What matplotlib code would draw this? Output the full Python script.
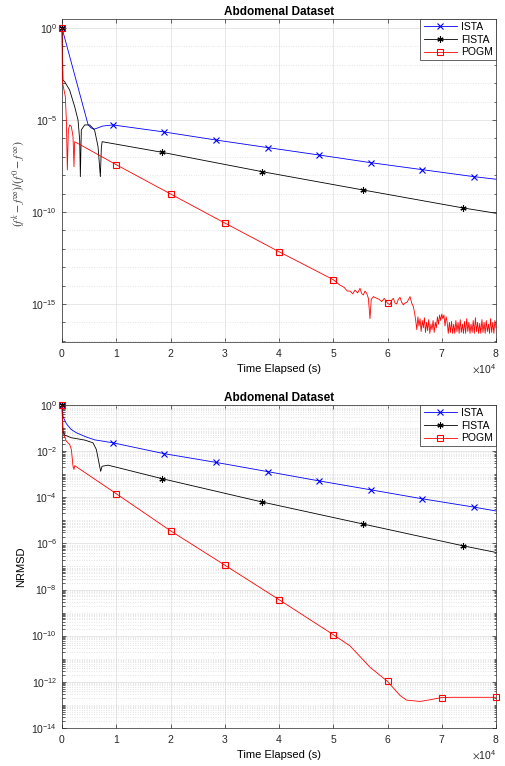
import numpy as np
import matplotlib
matplotlib.use('Agg')
import matplotlib.pyplot as plt
from matplotlib.lines import Line2D
from matplotlib.ticker import FixedLocator, NullFormatter, LogFormatterSciNotation

# ---- data (time in s, values as log10) ----
# top panel: relative cost (f^k - f^inf)/(f^0 - f^inf)
ista_t_top = [0, 4800, 5300, 5900, 6600, 7500, 9400, 18800, 28400, 37900, 47300, 56900, 66400, 75900, 80000]
ista_y_top = [0, -5.25, -5.42, -5.5, -5.43, -5.33, -5.27, -5.65, -6.09, -6.5, -6.9, -7.32, -7.7, -8.08, -8.22]

fista_t_top = [0, 180, 490, 1400, 2340, 2950, 3260, 3380, 3560, 4170, 5100, 6000, 6640, 7070, 7250, 7400,
               18500, 36900, 55400, 73900, 80000]
fista_y_top = [0, -2.84, -2.92, -3.37, -4.28, -5.0, -6.09, -8.08, -5.54, -5.27, -5.27, -5.54, -6.45, -8.08, -6.5, -6.18,
               -6.76, -7.81, -8.8, -9.78, -10.07]

pogm_t_top = [0, 60, 184, 610, 800, 980, 1170, 1410, 1720, 2030, 2210, 2330,
              10000, 20000, 30000, 40000, 50000,
              51200, 52000, 52600, 53100, 53600, 54000, 54500, 54930, 55250, 55550, 55850, 56160, 56470, 56770,
              57000, 57400, 58000, 58450, 58930, 59400, 60000, 60460, 60760, 61070, 61380, 61680, 62000, 62300,
              62600, 62920, 63250, 63600, 63900, 64150, 64450, 64760, 65000,
              65200, 65400, 65600, 65800, 66000, 66200, 66400, 66600, 66800, 67000, 67200, 67400, 67600, 67800,
              68000, 68200, 68400, 68600, 68800, 69000, 69200, 69400, 69600, 69800, 70000, 70200, 70400, 70600,
              70800, 71000, 71200, 71400, 71600, 71800, 72000, 72200, 72400, 72600, 72800, 73000, 73200, 73400,
              73600, 73800, 74000, 74200, 74400, 74600, 74800, 75000, 75200, 75400, 75600, 75800, 76000, 76200,
              76400, 76600, 76800, 77000, 77200, 77400, 77600, 77800, 78000, 78200, 78400, 78600, 78800, 79000,
              79200, 79400, 79600, 79800, 80000]
pogm_y_top = [0, -2.84, -3.1, -3.73, -5.0, -7.72, -5.54, -5.27, -5.36, -5.9, -7.54, -6.18,
              -7.43, -9.02, -10.6, -12.16, -13.68,
              -13.97, -14.1, -14.3, -14.3, -14.45, -14.25, -14.4, -14.15, -14.45, -14.51, -14.3, -14.42, -14.69, -15.8,
              -14.75, -14.6, -14.69, -14.75, -14.87, -14.7, -14.96, -15.05, -14.8, -14.69, -14.95, -15.0, -14.75, -14.64,
              -14.9, -15.05, -14.95, -14.9, -14.75, -14.6, -14.95, -15.15, -15.5,
              -15.9, -16.4, -15.7, -16.2, -15.8, -16.5, -15.9, -16.3, -15.75, -16.55, -16.0, -16.45, -15.85, -16.6,
              -16.1, -16.4, -15.9, -16.55, -16.0, -16.3, -15.7, -16.1, -15.6, -15.9, -15.55, -15.8, -15.6, -16.2,
              -15.7, -16.0, -16.6, -16.0, -16.55, -15.95, -16.6, -16.1, -16.6, -15.9, -16.5, -16.0, -16.6, -15.85,
              -16.55, -16.1, -16.6, -15.95, -16.6, -15.8, -16.5, -16.0, -16.6, -16.1, -16.55, -15.9, -16.6, -15.75,
              -16.5, -16.0, -16.6, -16.05, -16.6, -15.85, -16.55, -16.0, -16.6, -15.9, -16.5, -16.1, -16.6, -15.8,
              -16.55, -16.0, -16.6, -15.9, -16.3]

# bottom panel: NRMSD
ista_t_bot = [0, 200, 800, 1700, 2700, 4500, 6000, 9400, 18800, 28400, 37900, 47300, 56900, 66400, 75900, 80000]
ista_y_bot = [0, -0.5, -0.8, -1.05, -1.2, -1.38, -1.5, -1.63, -2.1, -2.48, -2.88, -3.28, -3.67, -4.06, -4.42, -4.59]

fista_t_bot = [0, 184, 490, 1720, 4180, 5710, 6330, 6940, 7130, 7370, 8480, 18500, 36900, 55400, 73900, 80000]
fista_y_bot = [0, -1.15, -1.29, -1.41, -1.51, -1.63, -1.92, -2.65, -2.87, -2.65, -2.6, -3.19, -4.2, -5.15, -6.1, -6.39]

pogm_t_bot = [0, 60, 184, 800, 1410, 1720, 2030, 2210, 2330, 10000, 20000, 30000, 40000, 50000, 53100, 56800,
              60000, 62300, 63500, 64750, 66000, 68000, 70000, 72000, 75000, 80000]
pogm_y_bot = [0, -0.61, -1.19, -1.56, -1.70, -1.92, -2.65, -2.79, -2.62, -3.84, -5.45, -6.94, -8.44, -9.96, -10.45, -11.38,
              -11.99, -12.6, -12.8, -12.83, -12.86, -12.78, -12.69, -12.68, -12.68, -12.68]

# marker positions (s)
ista_marks = [0, 9400, 18800, 28400, 37900, 47300, 56900, 66400, 75900]
fista_marks = [0, 18500, 36900, 55400, 73900]
pogm_marks_top = [0, 10000, 20000, 30000, 40000, 50000, 60000]
pogm_marks_bot = [0, 10000, 20000, 30000, 40000, 50000, 60000, 70000, 80000]

labels = ['ISTA', 'FISTA', 'POGM']
colors = ['#0000ff', '#000000', '#ff0000']
markers = ['x', (6, 2, 0), 's']

plt.rcParams['font.family'] = ['Liberation Sans', 'DejaVu Sans']
plt.rcParams['mathtext.fontset'] = 'stix'
plt.rcParams['font.size'] = 7.5
plt.rcParams['axes.linewidth'] = 0.5
plt.rcParams['axes.edgecolor'] = '#262626'
plt.rcParams['xtick.color'] = '#262626'
plt.rcParams['ytick.color'] = '#262626'


def draw(ax, t, y, marks, i):
    t = np.array(t, dtype=float)
    y = 10.0 ** np.array(y)
    idx = [int(np.argmin(np.abs(t - m))) for m in marks]
    ax.plot(t, y, color=colors[i], lw=0.6, marker=markers[i], markevery=idx,
            ms=4.5, mfc='none', mew=0.8, clip_on=False, zorder=3)


def style(ax, major, minor, ylim):
    ax.set_yscale('log')
    ax.set_xlim(0, 80000)
    ax.set_ylim(*ylim)
    ax.yaxis.set_major_locator(FixedLocator(major))
    ax.yaxis.set_minor_locator(FixedLocator(minor))
    ax.yaxis.set_major_formatter(LogFormatterSciNotation())
    ax.yaxis.set_minor_formatter(NullFormatter())
    ax.set_xticks(np.arange(0, 80001, 10000))
    ax.ticklabel_format(axis='x', style='sci', scilimits=(4, 4), useMathText=True)
    ax.tick_params(which='both', direction='in', top=True, right=True, width=0.5, labelsize=7.5)
    ax.tick_params(which='major', length=3)
    ax.tick_params(which='minor', length=1.8)
    ax.grid(True, which='major', color='#dddddd', lw=0.5, ls='-')
    ax.grid(True, which='minor', axis='y', color='#cccccc', lw=0.5, ls=(0, (1, 2.5)))
    ax.set_axisbelow(True)
    ax.set_title('Abdomenal Dataset', fontweight='bold', fontsize=8.5, pad=3)
    ax.set_xlabel('Time Elapsed (s)', fontsize=8)
    handles = [Line2D([], [], color=colors[i], lw=0.6, marker=markers[i], ms=4.5, mfc='none', mew=0.8)
               for i in range(3)]
    leg = ax.legend(handles, labels, loc='upper right', borderaxespad=0, fancybox=False,
                    edgecolor='#262626', framealpha=1, fontsize=7.5, handlelength=3.2,
                    handletextpad=0.4, labelspacing=0.25, borderpad=0.3)
    leg.get_frame().set_linewidth(0.5)
    leg.set_zorder(5)


fig = plt.figure(figsize=(5.05, 7.66), dpi=100)
ax1 = fig.add_axes([0.1228, 0.5535, 0.8594, 0.4217])
ax2 = fig.add_axes([0.1228, 0.05, 0.8594, 0.4213])

draw(ax1, ista_t_top, ista_y_top, ista_marks, 0)
draw(ax1, fista_t_top, fista_y_top, fista_marks, 1)
draw(ax1, pogm_t_top, pogm_y_top, pogm_marks_top, 2)
style(ax1, [1e-15, 1e-10, 1e-5, 1], [10.0 ** e for e in range(-17, 1)], (10 ** -17.07, 10 ** 0.49))
ax1.set_ylabel(r'$(f^k - f^\infty)/(f^0 - f^\infty)$', fontsize=8.5, color='#404040')
ax1.yaxis.set_label_coords(-0.08, 0.49)

draw(ax2, ista_t_bot, ista_y_bot, ista_marks, 0)
draw(ax2, fista_t_bot, fista_y_bot, fista_marks, 1)
draw(ax2, pogm_t_bot, pogm_y_bot, pogm_marks_bot, 2)
style(ax2, [10.0 ** e for e in range(-14, 1, 2)],
      [m * 10.0 ** e for e in range(-14, 1) for m in range(1, 10)], (1e-14, 1.03))
ax2.set_ylabel('NRMSD', fontsize=8)

fig.savefig('out.png', dpi=100, facecolor='white')
